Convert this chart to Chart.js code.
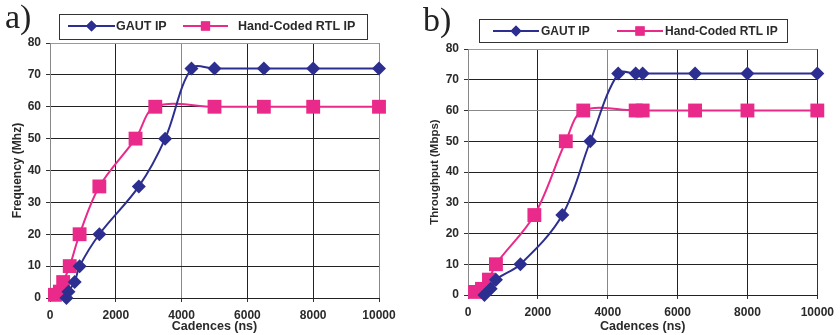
<!DOCTYPE html>
<html>
<head>
<meta charset="utf-8">
<title>Frequency and throughput vs cadence</title>
<script src="https://cdn.jsdelivr.net/npm/chart.js@4/dist/chart.umd.min.js"></script>
<style>
  html, body { margin: 0; padding: 0; background: #fff; }
  #wrap { position: relative; width: 840px; height: 335px; overflow: hidden; }
  .panel { position: absolute; top: 0; width: 420px; height: 335px; }
  .panel canvas { position: absolute; left: 0; top: 0; }
  .tag { position: absolute; font-family: "Liberation Serif", "DejaVu Serif", serif; font-size: 34px; line-height: 34px; color: #222; }
</style>
</head>
<body>
<div id="wrap">
  <div class="panel" style="left:0"><canvas id="chartA" width="420" height="335"></canvas><div class="tag" style="left:5px;top:0px">a)</div></div>
  <div class="panel" style="left:420px"><canvas id="chartB" width="420" height="335"></canvas><div class="tag" style="left:3px;top:3px">b)</div></div>
</div>
<script>
// Series names
const seriesNames = ['GAUT IP', 'Hand-Coded RTL IP'];

// Panel a) : frequency (MHz) versus cadence (ns)
const freqGautCadence = [500, 560, 750, 900, 1500, 2700, 3500, 4300, 5000, 6500, 8000, 10000];
const freqGautValues  = [0, 2, 5, 10, 20, 35, 50, 72, 72, 72, 72, 72];
const freqRtlCadence  = [150, 300, 400, 600, 900, 1500, 2600, 3200, 5000, 6500, 8000, 10000];
const freqRtlValues   = [1, 2, 5, 10, 20, 35, 50, 60, 60, 60, 60, 60];

// Panel b) : throughput (Mbps) versus cadence (ns)
const tputGautCadence = [470, 650, 800, 1500, 2700, 3500, 4300, 4800, 5000, 6500, 8000, 10000];
const tputGautValues  = [0, 2, 5, 10, 26, 50, 72, 72, 72, 72, 72, 72];
const tputRtlCadence  = [200, 400, 600, 800, 1900, 2800, 3300, 4800, 5000, 6500, 8000, 10000];
const tputRtlValues   = [1, 2, 5, 10, 26, 50, 60, 60, 60, 60, 60, 60];

// Axis ticks
const xTicks = [0, 2000, 4000, 6000, 8000, 10000];
const yTicks = [0, 10, 20, 30, 40, 50, 60, 70, 80];

const BLUE = '#2c2f8f';
const PINK = '#ea2a8b';
const TEXT = '#2a2a2a';

function pairs(xs, ys) { return xs.map((x, i) => ({ x: x, y: ys[i] })); }

// Boxed legend: a short line with its marker in the middle, then the name
const boxedLegend = {
  id: 'boxedLegend',
  afterDraw(chart, args, opts) {
    const ctx = chart.ctx;
    ctx.save();
    ctx.fillStyle = '#fff';
    ctx.fillRect(opts.box[0], opts.box[1], opts.box[2], opts.box[3]);
    ctx.strokeStyle = '#333';
    ctx.lineWidth = 1;
    ctx.strokeRect(opts.box[0] + 0.5, opts.box[1] + 0.5, opts.box[2], opts.box[3]);
    chart.data.datasets.forEach((ds, i) => {
      const it = opts.items[i];
      const y = opts.y;
      ctx.strokeStyle = ds.borderColor;
      ctx.lineWidth = 2;
      ctx.beginPath();
      ctx.moveTo(it.x0, y);
      ctx.lineTo(it.x1, y);
      ctx.stroke();
      ctx.fillStyle = ds.borderColor;
      Chart.helpers.drawPoint(ctx, { pointStyle: ds.pointStyle, radius: it.r, borderWidth: 0 }, (it.x0 + it.x1) / 2, y);
      ctx.fill();
      ctx.fillStyle = TEXT;
      ctx.font = 'bold ' + opts.fontSize + 'px "Liberation Sans", Arial, sans-serif';
      ctx.textBaseline = 'middle';
      ctx.textAlign = 'left';
      ctx.fillText(ds.label, it.tx, y + 1);
    });
    ctx.restore();
  }
};

function makeChart(id, cfg) {
  const tickFont = { family: '"Liberation Sans", Arial, sans-serif', size: 12, weight: 'bold' };
  return new Chart(document.getElementById(id), {
    type: 'line',
    data: {
      datasets: [
        {
          label: seriesNames[0],
          data: pairs(cfg.gx, cfg.gy),
          borderColor: BLUE,
          backgroundColor: BLUE,
          borderWidth: 2,
          pointStyle: 'rectRot',
          pointRadius: 7,
          pointBorderWidth: 0,
          tension: 0.35,
          clip: false
        },
        {
          label: seriesNames[1],
          data: pairs(cfg.rx, cfg.ry),
          borderColor: PINK,
          backgroundColor: PINK,
          borderWidth: 2,
          pointStyle: 'rect',
          pointRadius: 9.8,
          pointBorderWidth: 0,
          tension: 0.35,
          clip: false
        }
      ]
    },
    options: {
      responsive: false,
      animation: false,
      events: [],
      layout: { padding: cfg.padding },
      plugins: {
        legend: { display: false },
        tooltip: { enabled: false },
        boxedLegend: cfg.legend
      },
      scales: {
        x: {
          type: 'linear',
          min: 0, max: 10000,
          afterBuildTicks: s => { s.ticks = xTicks.map(v => ({ value: v })); },
          afterFit: s => { s.height = cfg.xHeight; },
          ticks: { font: tickFont, color: TEXT, padding: 6, maxRotation: 0, callback: v => String(v) },
          grid: {
            color: c => cfg.xGridColors[c.index] || '#222',
            lineWidth: 1,
            tickLength: 4,
            tickColor: '#333'
          },
          border: { color: '#222', width: 1 },
          title: {
            display: true,
            text: 'Cadences (ns)',
            color: TEXT,
            font: { family: '"Liberation Sans", Arial, sans-serif', size: 12.5, weight: 'bold' },
            padding: { top: 0, bottom: cfg.xTitlePad }
          }
        },
        y: {
          type: 'linear',
          min: 0, max: 80,
          afterBuildTicks: s => { s.ticks = yTicks.map(v => ({ value: v })); },
          afterFit: s => { s.width = cfg.yWidth; },
          ticks: { font: tickFont, color: TEXT, padding: 5, callback: v => String(v) },
          grid: {
            color: c => cfg.yGridColors[c.index] || '#222',
            lineWidth: 1,
            tickLength: 4,
            tickColor: '#333'
          },
          border: { color: '#888', width: 1 },
          title: {
            display: true,
            text: cfg.yTitle,
            color: TEXT,
            font: { family: '"Liberation Sans", Arial, sans-serif', size: cfg.yTitleSize, weight: 'bold' },
            padding: { top: cfg.yTitlePad, bottom: 0 }
          }
        }
      }
    },
    plugins: [boxedLegend]
  });
}

makeChart('chartA', {
  gx: freqGautCadence, gy: freqGautValues,
  rx: freqRtlCadence, ry: freqRtlValues,
  yTitle: 'Frequency (Mhz)', yTitleSize: 12, yTitlePad: 10,
  padding: { left: 0, right: 41, top: 43, bottom: 0 },
  yWidth: 50, xHeight: 37, xTitlePad: 1,
  xGridColors: ['#888', '#222', '#888', '#222', '#222', '#888'],
  yGridColors: ['#222', '#222', '#222', '#222', '#222', '#222', '#222', '#222', '#999'],
  legend: {
    box: [59, 14, 308, 25], y: 26, fontSize: 12.5,
    items: [
      { x0: 68, x1: 115, r: 5.5, tx: 116 },
      { x0: 183, x1: 228, r: 6.5, tx: 238 }
    ]
  }
});

makeChart('chartB', {
  gx: tputGautCadence, gy: tputGautValues,
  rx: tputRtlCadence, ry: tputRtlValues,
  yTitle: 'Throughput (Mbps)', yTitleSize: 11.5, yTitlePad: 8,
  padding: { left: 0, right: 20, top: 49, bottom: 0 },
  yWidth: 48, xHeight: 40, xTitlePad: 1,
  xGridColors: ['#888', '#222', '#888', '#222', '#222', '#333'],
  yGridColors: ['#222', '#222', '#222', '#222', '#222', '#222', '#888', '#222', '#999'],
  legend: {
    box: [59, 19, 308, 23], y: 31, fontSize: 12,
    items: [
      { x0: 73, x1: 119, r: 5.5, tx: 121 },
      { x0: 197, x1: 243, r: 6.5, tx: 245 }
    ]
  }
});
</script>
</body>
</html>
